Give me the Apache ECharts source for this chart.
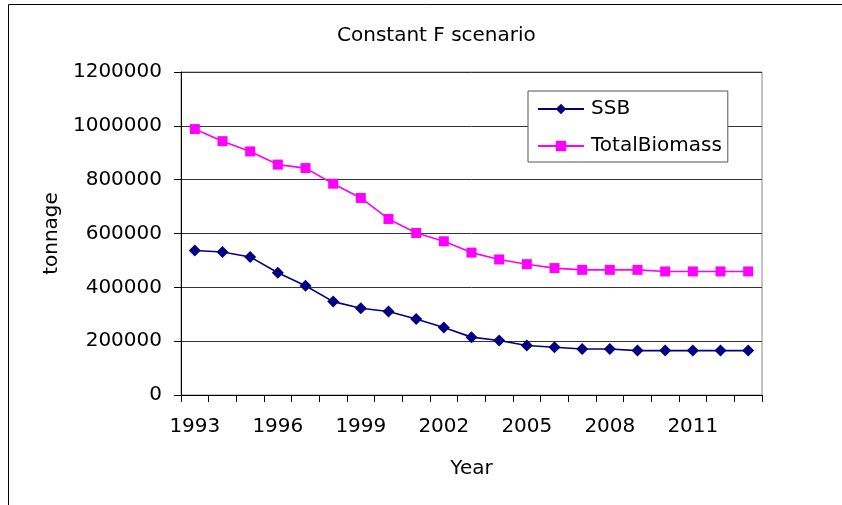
<!DOCTYPE html>
<html>
<head>
<meta charset="utf-8">
<script src="https://cdn.jsdelivr.net/npm/echarts@6/dist/echarts.min.js"></script>
<style>html,body{margin:0;padding:0;background:#fff}#c{width:842px;height:505px}</style>
</head>
<body>
<div id="c"></div>
<script>
var years = ['1993','1994','1995','1996','1997','1998','1999','2000','2001','2002','2003','2004','2005','2006','2007','2008','2009','2010','2011','2012','2013'];
var ssb = [537000, 531000, 513000, 454000, 406000, 347000, 322000, 310000, 282000, 251000, 215000, 202500, 184000, 177500, 171000, 171000, 165000, 165000, 165000, 165000, 165000];
var totalBiomass = [988000, 943000, 905000, 856000, 843000, 785000, 732000, 654000, 602000, 571000, 529000, 503500, 486000, 471500, 465000, 465000, 465000, 459000, 459000, 459000, 459000];
var yTicks = { min: 0, max: 1200000, interval: 200000 };

var FONT = 'DejaVu Sans';
var chart = echarts.init(document.getElementById('c'), null, { renderer: 'canvas' });
chart.setOption({
  backgroundColor: '#fff',
  animation: false,
  title: {
    text: 'Constant F scenario',
    left: 332,
    top: 21,
    textStyle: { fontFamily: FONT, fontSize: 20, fontWeight: 'normal', color: '#000' }
  },
  graphic: [
    { type: 'line', shape: { x1: 8.5, y1: 4.5, x2: 842, y2: 4.5 }, style: { stroke: '#000', lineWidth: 1 } },
    { type: 'line', shape: { x1: 8.5, y1: 4.5, x2: 8.5, y2: 505 }, style: { stroke: '#000', lineWidth: 1 } }
  ],
  grid: {
    left: 181, right: 80, top: 72, bottom: 110,
    show: true, borderColor: '#888', borderWidth: 1, backgroundColor: '#fff'
  },
  legend: {
    orient: 'vertical',
    left: 528, top: 91,
    width: 200,
    padding: [8, 6, 6, 9],
    itemWidth: 46, itemHeight: 13, itemGap: 17,
    backgroundColor: '#fff',
    borderColor: '#555', borderWidth: 1,
    textStyle: { fontFamily: FONT, fontSize: 20, color: '#000', padding: [0, 0, 0, 2] },
    data: ['SSB', 'TotalBiomass']
  },
  xAxis: {
    type: 'category',
    data: years,
    boundaryGap: true,
    name: 'Year',
    nameLocation: 'middle',
    nameGap: 64,
    nameTextStyle: { fontFamily: FONT, fontSize: 20, color: '#000' },
    axisLine: { lineStyle: { color: '#000', width: 1 } },
    axisTick: { show: true, interval: 0, length: 7, lineStyle: { color: '#000' } },
    axisLabel: { interval: 2, margin: 22, fontFamily: FONT, fontSize: 20, color: '#000' },
    splitLine: { show: false }
  },
  yAxis: {
    type: 'value',
    min: yTicks.min, max: yTicks.max, interval: yTicks.interval,
    name: 'tonnage',
    nameLocation: 'middle',
    nameGap: 116,
    nameTextStyle: { fontFamily: FONT, fontSize: 20, color: '#000' },
    axisLine: { show: true, lineStyle: { color: '#000', width: 1 } },
    axisTick: { show: true, length: 7, lineStyle: { color: '#000' } },
    axisLabel: { margin: 19, fontFamily: FONT, fontSize: 20, color: '#000', formatter: function (v) { return String(v); } },
    splitLine: { show: true, lineStyle: { color: '#333', width: 1 } }
  },
  series: [
    {
      name: 'SSB', type: 'line', data: ssb,
      symbol: 'diamond', symbolSize: 12,
      itemStyle: { color: '#000080' },
      lineStyle: { color: '#000080', width: 1.6 }
    },
    {
      name: 'TotalBiomass', type: 'line', data: totalBiomass,
      symbol: 'rect', symbolSize: 10,
      itemStyle: { color: '#FF00FF' },
      lineStyle: { color: '#FF00FF', width: 1.6 }
    }
  ]
});
</script>
</body>
</html>
